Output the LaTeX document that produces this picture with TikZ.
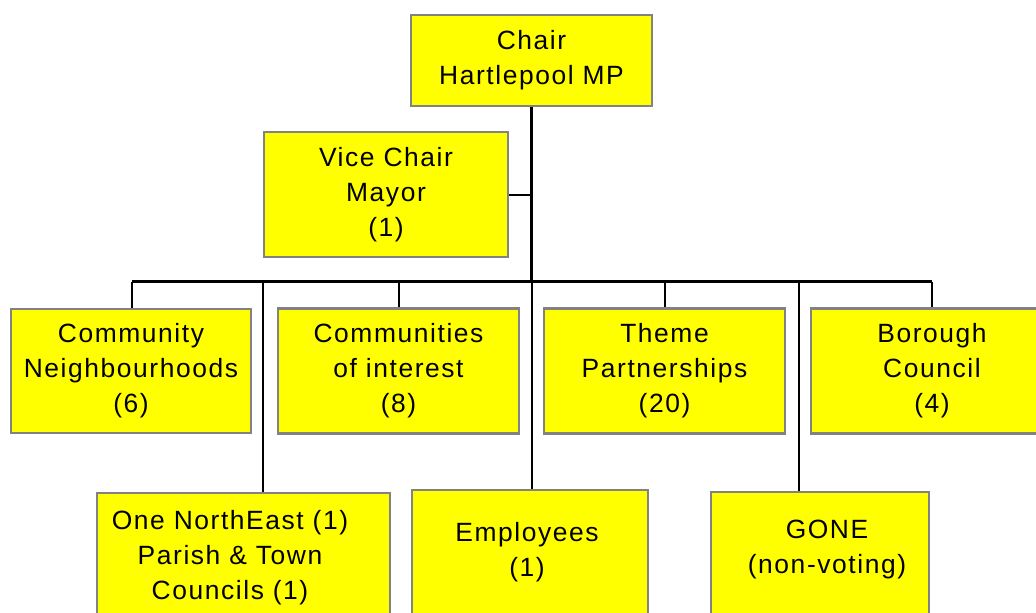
\documentclass[tikz,border=0pt]{standalone}
\usepackage{fontspec}
\setmainfont{Liberation Sans}[LetterSpace=6]
\definecolor{boxfill}{RGB}{255,255,0}
\definecolor{boxedge}{RGB}{130,130,130}
\begin{document}
\begin{tikzpicture}[x=0.75pt,y=-0.75pt,
  orgtext/.style={font=\fontsize{19.8pt}{26.25pt}\selectfont, align=center, inner sep=0pt},
  orgbox/.style n args={2}{draw=boxedge, line width=1.6pt, fill=boxfill,
    minimum width={#1*0.75pt}, minimum height={#2*0.75pt}, inner sep=0pt, orgtext},
  stem/.style={line width=2.25pt},
  link/.style={line width=1.5pt},
  thinlink/.style={line width=1.5pt}]
\useasboundingbox (0,0) rectangle (1036,612);
\clip (0,0) rectangle (1036,612);

% top of the chart
\node[orgbox={241}{91}] (chair) at (531.5,60.5) {Chair\\Hartlepool MP};
\node[orgbox={244}{125}] (vice) at (386,194.5) {Vice Chair\\Mayor\\(1)};

% member groups
\node[orgbox={240}{124}] (cn) at (131,371) {Community\\Neighbourhoods\\(6)};
\node[orgbox={241}{125}] (ci) at (398.5,371) {Communities\\of interest\\(8)};
\node[orgbox={241}{125}] (tp) at (664.5,371) {Theme\\Partnerships\\(20)};
\node[orgbox={242}{125}] (bc) at (932,371) {Borough\\Council\\(4)};

% lower row, running off the page
\node[orgbox={293}{137}] (one) at (243.5,561.5) {};
\node[orgbox={236}{140}] (emp) at (530,560) {};
\node[orgbox={218}{138}] (gone) at (820,561) {};
\node[orgtext] (onetext) at (230,558) {One NorthEast (1)\\Parish \& Town\\Councils (1)};
\node[orgtext] (emptext) at (527,552) {Employees\\(1)};
\node[orgtext] (gonetext) at (827,550) {GONE\\(non-voting)};

% junctions on the bus
\coordinate (hub) at (531.5,281.5);
\coordinate (vj) at (531.5,194.5);
\coordinate (busL) at (132,281.5);
\coordinate (busR) at (932,281.5);
\coordinate (dropone) at (263,281.5);
\coordinate (dropemp) at (532,281.5);
\coordinate (dropgone) at (799,281.5);

% connectors
\draw[stem] (chair.south) -- (hub);
\draw[link] (vice.east) -- (vj);
\draw[stem] (busL) -- (busR);
\draw[link] (busL) -- (busL |- cn.north);
\draw[link] (ci.north |- hub) -- (ci.north);
\draw[link] (tp.north |- hub) -- (tp.north);
\draw[link] (busR) -- (bc.north);
\draw[thinlink] (dropone) -- (dropone |- one.north);
\draw[thinlink] (dropemp) -- (dropemp |- emp.north);
\draw[thinlink] (dropgone) -- (dropgone |- gone.north);
\end{tikzpicture}
\end{document}
